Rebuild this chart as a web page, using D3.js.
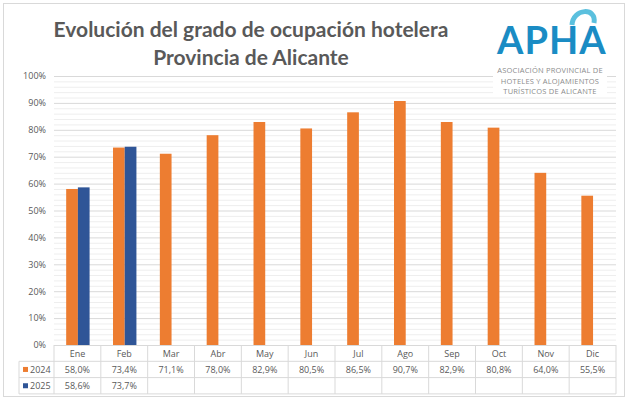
<!DOCTYPE html>
<html>
<head>
<meta charset="utf-8">
<script src="https://cdn.jsdelivr.net/npm/d3@7"></script>
<style>
  body { margin: 0; background: #fff; }
  svg text { font-family: "Open Sans", sans-serif; }
</style>
</head>
<body>
<svg id="chart"></svg>
<script>
// data
const months = ["Ene", "Feb", "Mar", "Abr", "May", "Jun", "Jul", "Ago", "Sep", "Oct", "Nov", "Dic"];
const series = ["2024", "2025"];
const values2024 = [58.0, 73.4, 71.1, 78.0, 82.9, 80.5, 86.5, 90.7, 82.9, 80.8, 64.0, 55.5];
const values2025 = [58.6, 73.7];
const yTicks = [0, 10, 20, 30, 40, 50, 60, 70, 80, 90, 100];
const titleLines = ["Evolución del grado de ocupación hotelera", "Provincia de Alicante"];
const logoLines = ["ASOCIACIÓN PROVINCIAL DE", "HOTELES Y ALOJAMIENTOS", "TURÍSTICOS DE ALICANTE"];

const colors = { "2024": "#ED7D31", "2025": "#2F5597" };
const textColor = "#595959";
const gridColor = "#d9d9d9";

const width = 628, height = 400;
const margin = { top: 76, right: 12, bottom: 55, left: 54 };
const innerW = width - margin.left - margin.right;
const innerH = height - margin.top - margin.bottom;

const svg = d3.select("#chart").attr("width", width).attr("height", height);

// outer frame
svg.append("rect")
  .attr("x", 3.5).attr("y", 3.5)
  .attr("width", width - 7).attr("height", height - 7)
  .attr("fill", "#fff").attr("stroke", "#d9d9d9");

const chart = svg.append("g").attr("transform", `translate(${margin.left},${margin.top})`);

const x0 = d3.scaleBand().domain(months).range([0, innerW]);
const bw = x0.bandwidth();
const x1 = d3.scaleBand().domain(series).range([bw * 0.26, bw * 0.76]);
const y = d3.scaleLinear().domain([0, 100]).range([innerH, 0]);

// minor gridlines (every 2%)
chart.append("g")
  .call(d3.axisLeft(y).tickValues(d3.range(0, 101, 2).filter(d => d % 10 !== 0)).tickSize(-innerW).tickFormat(""))
  .call(g => g.select(".domain").remove())
  .call(g => g.selectAll("line").attr("stroke", "#eeeeee"));

// major gridlines + labels
chart.append("g")
  .call(d3.axisLeft(y).tickValues(yTicks).tickSize(-innerW).tickPadding(8).tickFormat(d => d + "%"))
  .call(g => g.select(".domain").remove())
  .call(g => g.selectAll("line").attr("stroke", gridColor))
  .call(g => g.selectAll("text").attr("fill", textColor).attr("font-size", 9));

// bars
const rows = months.map((m, i) => ({ month: m, "2024": values2024[i], "2025": values2025[i] }));
chart.append("g")
  .selectAll("g")
  .data(rows)
  .join("g")
  .attr("transform", d => `translate(${x0(d.month)},0)`)
  .selectAll("rect")
  .data(d => series.filter(s => d[s] != null).map(s => ({ key: s, value: d[s] })))
  .join("rect")
  .attr("x", d => x1(d.key))
  .attr("y", d => y(d.value))
  .attr("width", x1.bandwidth())
  .attr("height", d => y(0) - y(d.value))
  .attr("fill", d => colors[d.key]);

// data table under the axis
const rowH = 16.3;
const table = chart.append("g").attr("transform", `translate(0,${innerH})`);
const legendLeft = 19 - margin.left;

table.append("line")
  .attr("x1", 0).attr("x2", innerW).attr("y1", 0.5).attr("y2", 0.5)
  .attr("stroke", gridColor);
[1, 2, 3].forEach(r => {
  table.append("line")
    .attr("x1", legendLeft).attr("x2", innerW)
    .attr("y1", r * rowH).attr("y2", r * rowH)
    .attr("stroke", gridColor);
});
table.append("line")
  .attr("x1", legendLeft).attr("x2", legendLeft)
  .attr("y1", rowH).attr("y2", 3 * rowH)
  .attr("stroke", gridColor);
table.selectAll(".vline")
  .data(months.map(m => x0(m)).concat([innerW]))
  .join("line")
  .attr("class", "vline")
  .attr("x1", d => d).attr("x2", d => d)
  .attr("y1", 0).attr("y2", 3 * rowH)
  .attr("stroke", gridColor);

table.selectAll(".mlabel")
  .data(months)
  .join("text")
  .attr("class", "mlabel")
  .attr("x", d => x0(d) + bw / 2)
  .attr("y", rowH / 2 + 3.5)
  .attr("text-anchor", "middle")
  .attr("font-size", 9)
  .attr("fill", textColor)
  .text(d => d);

const fmt = v => v.toFixed(1).replace(".", ",") + "%";
[values2024, values2025].forEach((vals, r) => {
  const ry = (r + 1) * rowH;
  table.append("rect")
    .attr("x", legendLeft + 4).attr("y", ry + rowH / 2 - 2.5)
    .attr("width", 5).attr("height", 5)
    .attr("fill", colors[series[r]]);
  table.append("text")
    .attr("x", legendLeft + 11).attr("y", ry + rowH / 2 + 3.5)
    .attr("font-size", 9).attr("fill", textColor)
    .text(series[r]);
  table.selectAll(null)
    .data(vals)
    .join("text")
    .attr("x", (d, i) => x0(months[i]) + bw / 2)
    .attr("y", ry + rowH / 2 + 3.5)
    .attr("text-anchor", "middle")
    .attr("font-size", 9)
    .attr("fill", textColor)
    .text(d => fmt(d));
});

// title
svg.selectAll(".title")
  .data(titleLines)
  .join("text")
  .attr("class", "title")
  .attr("x", 251)
  .attr("y", (d, i) => 37 + i * 28)
  .attr("text-anchor", "middle")
  .attr("font-size", 21)
  .attr("font-weight", "bold")
  .attr("fill", textColor)
  .style("font-family", "Lato, sans-serif")
  .text(d => d);

// logo block (white background hides gridlines behind it)
const logo = svg.append("g");
logo.append("rect")
  .attr("x", 493).attr("y", 8).attr("width", 114).attr("height", 89)
  .attr("fill", "#fff");
logo.append("text")
  .attr("x", 497).attr("y", 54)
  .attr("font-size", 38)
  .attr("font-weight", "bold")
  .attr("letter-spacing", 1)
  .attr("fill", "#1A8CC4")
  .style("font-family", "Lato, sans-serif")
  .text("APHA");
logo.append("path")
  .attr("d", "M572,25 C573,8 597,7 594,23")
  .attr("fill", "none")
  .attr("stroke", "#5BC0DE")
  .attr("stroke-width", 5);
logo.selectAll(".sub")
  .data(logoLines)
  .join("text")
  .attr("class", "sub")
  .attr("x", 550)
  .attr("y", (d, i) => 73 + i * 10.5)
  .attr("text-anchor", "middle")
  .attr("font-size", 7.5)
  .attr("letter-spacing", 0.2)
  .attr("fill", "#8c8c8c")
  .text(d => d);
</script>
</body>
</html>
